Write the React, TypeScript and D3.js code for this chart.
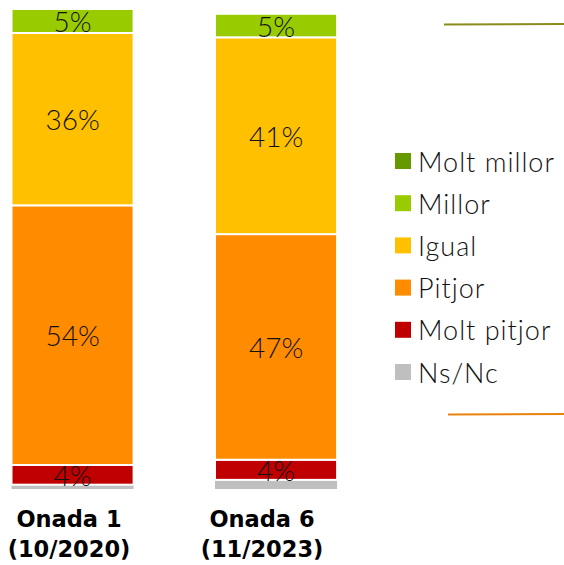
import React from "react";
import * as d3 from "d3";

const categories = ["Onada 1", "Onada 6"];
const categorySub = ["(10/2020)", "(11/2023)"];
const seriesNames = ["Ns/Nc", "Molt pitjor", "Pitjor", "Igual", "Millor", "Molt millor"];
const seriesColors = ["#BFBFBF", "#C00000", "#FF8C00", "#FFC000", "#99CC00", "#669900"];
// values per series, [Onada 1, Onada 6]
const nsnc = [0.9, 1.9];
const moltPitjor = [4.1, 4.2];
const pitjor = [54.1, 47.0];
const igual = [35.9, 41.0];
const millor = [5.0, 4.9];
const moltMillor = [0, 0];
const seriesValues = [nsnc, moltPitjor, pitjor, igual, millor, moltMillor];
const legendOrder = ["Molt millor", "Millor", "Igual", "Pitjor", "Molt pitjor", "Ns/Nc"];

const W = 564;
const H = 565;

export default function App() {
  const x = d3.scaleBand<string>().domain(categories).range([11.5, 337.1]).paddingInner(0.4).paddingOuter(0);
  const xLabel = d3.scalePoint<string>().domain(categories).range([69, 262]);
  const y = d3.scaleLinear().domain([0, 100]).range([489, 9]);

  const rows = categories.map((c, i) => {
    const r: any = { cat: c };
    seriesNames.forEach((s, k) => (r[s] = seriesValues[k][i]));
    return r;
  });
  const stack = d3.stack<any>().keys(seriesNames)(rows);

  const legendY = d3.scalePoint<string>().domain(legendOrder).range([161, 372]);
  const colorOf = d3.scaleOrdinal<string, string>().domain(seriesNames).range(seriesColors);

  const pctFont = "Lato, 'Open Sans', sans-serif";

  return (
    <svg width={W} height={H} style={{ position: "absolute", left: 0, top: 0, background: "#fff" }}>
      {stack.map((layer) => (
        <g key={layer.key}>
          {layer.map((d, i) => {
            const h = y(d[0]) - y(d[1]);
            if (h <= 0) return null;
            const isGray = layer.key === "Ns/Nc";
            return (
              <rect
                key={i}
                x={x(categories[i])!}
                y={y(d[1])}
                width={x.bandwidth()}
                height={h}
                fill={colorOf(layer.key)}
                stroke={isGray ? "none" : "#fff"}
                strokeWidth={isGray ? 0 : 2}
              />
            );
          })}
        </g>
      ))}
      {stack.map((layer) =>
        layer.key === "Ns/Nc"
          ? null
          : layer.map((d, i) => {
              const v = d[1] - d[0];
              if (v <= 0) return null;
              return (
                <text
                  key={layer.key + i}
                  x={x(categories[i])! + x.bandwidth() / 2}
                  y={(y(d[0]) + y(d[1])) / 2}
                  textAnchor="middle"
                  dominantBaseline="central"
                  fontFamily={pctFont}
                  fontWeight={300}
                  fontSize={28}
                  fill="#111"
                >
                  {Math.round(v)}%
                </text>
              );
            })
      )}
      {categories.map((c, i) => (
        <text
          key={c}
          x={xLabel(c)}
          textAnchor="middle"
          fontFamily="'DejaVu Sans', sans-serif"
          fontWeight="bold"
          fontSize={22.5}
          fill="#000"
        >
          <tspan x={xLabel(c)} y={527}>{c}</tspan>
          <tspan x={xLabel(c)} y={557}>{categorySub[i]}</tspan>
        </text>
      ))}
      {legendOrder.map((s) => (
        <g key={s} transform={`translate(395,${legendY(s)})`}>
          <rect x={0} y={-8} width={16} height={16} fill={colorOf(s)} />
          <text
            x={23}
            y={0}
            dominantBaseline="central"
            fontFamily={pctFont}
            fontWeight={300}
            fontSize={27}
            letterSpacing={1}
            fill="#111"
          >
            {s}
          </text>
        </g>
      ))}
      <line x1={444} x2={564} y1={24.5} y2={24} stroke="#8C8C1E" strokeWidth={2} />
      <line x1={448} x2={564} y1={414.5} y2={414} stroke="#E8820C" strokeWidth={2} />
    </svg>
  );
}
